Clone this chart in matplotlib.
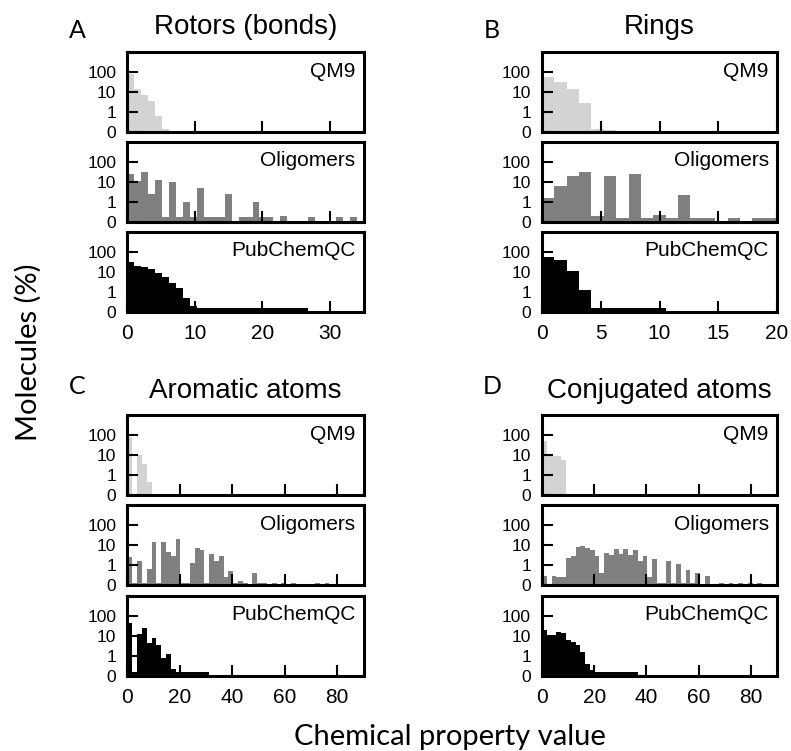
import numpy as np
import matplotlib.pyplot as plt
from matplotlib.ticker import NullLocator

plt.rcParams['font.family'] = ['Liberation Sans', 'DejaVu Sans']

W, H = 791, 751

titles = ['Rotors (bonds)', 'Rings', 'Aromatic atoms', 'Conjugated atoms']
letters = ['A', 'B', 'C', 'D']
datasets = ['QM9', 'Oligomers', 'PubChemQC']
colors = ['#d3d3d3', '#808080', '#000000']

# histogram range (max value, number of bins) and x axis per property
bin_specs = [(34, 33), (20, 19), (88, 48), (88, 48)]
x_limits = [35, 20, 90, 90]
x_ticks = [[0, 10, 20, 30], [0, 5, 10, 15, 20], [0, 20, 40, 60, 80], [0, 20, 40, 60, 80]]

# molecules (%) per bin
rotor_qm9 = [76, 14.7, 7.4, 3.4, 0.78, 0.13]
rotor_olig = [25, 10.5, 32, 2.3, 12.6, 0.22, 9.8, 0.22, 1.0, 0.22, 4.9, 0.22, 0.22,
              0.22, 2.3, 0, 0.22, 0.22, 1.0, 0.22, 0.22, 0, 0.27, 0, 0, 0, 0.22, 0,
              0, 0, 0.22, 0, 0.22]
rotor_pub = [31.6, 19, 16.6, 13.2, 8.3, 5.2, 2.6, 1.5, 0.67, 0.28, 0.2, 0.2, 0.2,
             0.2, 0.2, 0.2, 0.2, 0.2, 0.2, 0.2, 0.2, 0.2, 0.2, 0.2, 0.2, 0.2]

ring_qm9 = [56, 31.6, 14.8, 2.95, 0.17, 0.12]
ring_olig = [1.5, 6.3, 19.3, 30, 0.28, 19.3, 0.2, 24, 0.2, 0.33, 0.2, 2.1, 0.2, 0.2,
             0, 0.2, 0, 0.2, 0.2]
ring_pub = [52, 38, 10.8, 1.2, 0.2, 0.2, 0.2, 0.2, 0.2, 0.2]

arom_qm9 = [78, 0, 10.5, 3.6, 0.65]
arom_olig = [2.6, 0.12, 1.6, 0.12, 0.8, 14.6, 0.12, 14.6, 4.6, 2.9, 20, 0.12, 0.12,
             1.3, 6.8, 5.6, 0.12, 3.4, 1.6, 2.8, 0.4, 0.7, 0.12, 0.22, 0.12, 0, 0.6,
             0.12, 0.12, 0, 0.12, 0, 0.12, 0, 0.12, 0, 0, 0, 0, 0.12, 0, 0.12]
arom_pub = [43, 0.17, 12.6, 24, 4.1, 7.8, 3.3, 0.9, 1.17, 0.33, 0.2, 0.17, 0.17,
            0.17, 0.17, 0.17, 0.17]

conj_qm9 = [50, 9.5, 8.9, 8.9, 5.6]
conj_olig = [0.45, 0, 0.45, 0.42, 0.42, 2.3, 2.8, 8.3, 8.9, 7.4, 5.6, 2.8, 0.58, 3.8,
             3.2, 6.1, 3.5, 6.1, 3.2, 5.6, 1.5, 2.8, 0.42, 1.9, 0.12, 0.12, 1.5, 0.12,
             1.1, 0.12, 0.75, 0.12, 0.62, 0, 0.45, 0, 0, 0.12, 0, 0.12, 0, 0.12, 0,
             0.12, 0, 0.12]
conj_pub = [19, 10.8, 10.8, 16, 13.6, 6.3, 5, 3.4, 1.5, 0.6, 0.3, 0.2, 0.2, 0.2,
            0.2, 0.2, 0.2, 0.2, 0.2, 0.2]

panel_data = [[rotor_qm9, rotor_olig, rotor_pub],
              [ring_qm9, ring_olig, ring_pub],
              [arom_qm9, arom_olig, arom_pub],
              [conj_qm9, conj_olig, conj_pub]]

# layout in pixels
col_left = [127.5, 542]
col_width = [236, 235]
row_tops = [[52, 141.7, 231.7], [415, 505, 595.7]]
ax_h = 80

fig = plt.figure(figsize=(W / 100, H / 100), dpi=100)

for p in range(4):
    col, half = p % 2, p // 2
    vmax, nbins = bin_specs[p]
    edges = np.linspace(0, vmax, nbins + 1)
    for r in range(3):
        top = row_tops[half][r]
        ax = fig.add_axes([col_left[col] / W, 1 - (top + ax_h) / H,
                           col_width[col] / W, ax_h / H])
        vals = panel_data[p][r]
        n = len(vals)
        ax.bar(edges[:n], vals, width=np.diff(edges)[:n], align='edge',
               color=colors[r], linewidth=0)
        ax.set_yscale('symlog', linthresh=1, linscale=0.9)
        ax.set_ylim(0, 1000)
        ax.set_xlim(0, x_limits[p])
        ax.set_yticks([0, 1, 10, 100])
        ax.set_yticklabels(['0', '1', '10', '100'])
        ax.yaxis.set_minor_locator(NullLocator())
        ax.set_xticks(x_ticks[p])
        ax.xaxis.set_minor_locator(NullLocator())
        ax.tick_params(axis='both', direction='in', length=8, width=1.5,
                       top=False, right=False)
        ax.tick_params(axis='y', labelsize=12.5, pad=8)
        ax.tick_params(axis='x', labelsize=15, pad=9)
        if r < 2:
            ax.set_xticklabels([])
        for s in ax.spines.values():
            s.set_linewidth(2.2)
        ax.text(0.965, 0.76, datasets[r], transform=ax.transAxes,
                ha='right', va='center', fontsize=15)

    cx = (col_left[col] + col_width[col] / 2) / W
    ty = 27 if half == 0 else 391
    fig.text(cx, 1 - ty / H, titles[p], ha='center', va='center', fontsize=20)
    lx = col_left[col] - 50
    ly = 31 if half == 0 else 386
    fig.text(lx / W, 1 - ly / H, letters[p], ha='center', va='center', fontsize=18,
             family=['Lato', 'DejaVu Sans'])

fig.text(28 / W, 1 - 352 / H, 'Molecules (%)', rotation=90, ha='center',
         va='center', fontsize=21, family=['Lato', 'DejaVu Sans'])
fig.text(450 / W, 1 - 737 / H, 'Chemical property value', ha='center',
         va='center', fontsize=21, family=['Lato', 'DejaVu Sans'])

fig.savefig('out.png', dpi=100)
